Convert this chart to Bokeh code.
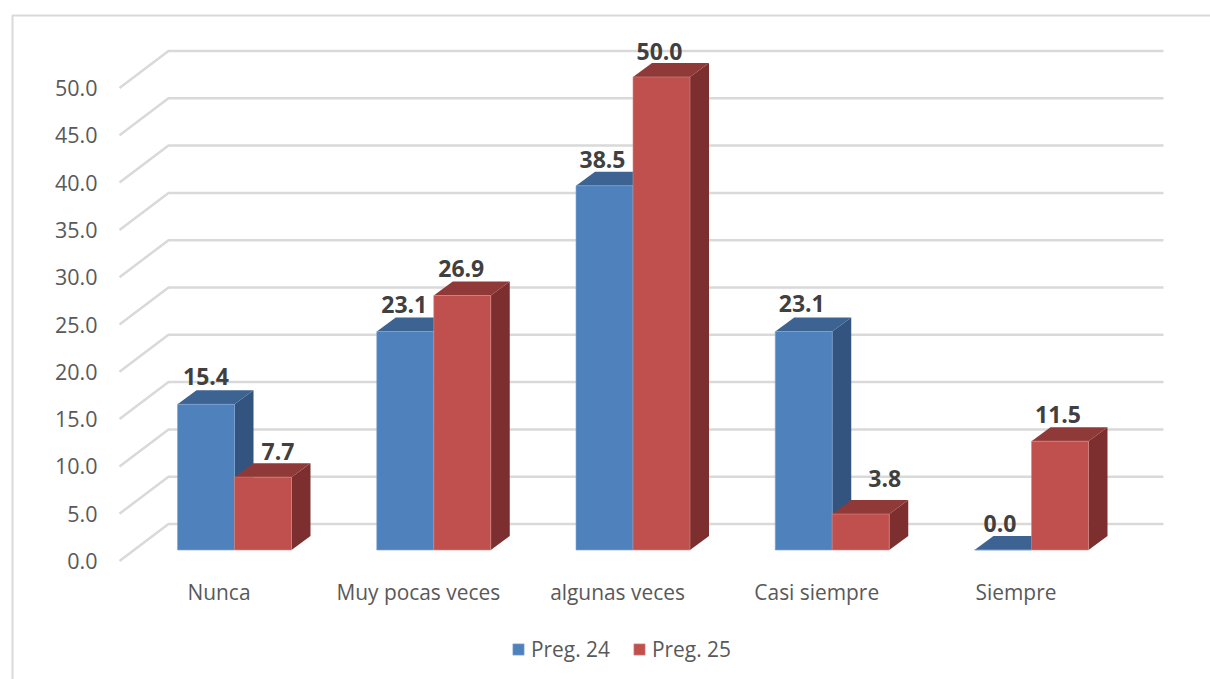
from bokeh.embed import file_html
from bokeh.models import BoxAnnotation, FixedTicker, Legend, LegendItem, LinearAxis, Range1d
from bokeh.plotting import figure
from bokeh.resources import INLINE
from bokeh.core.properties import value

# Survey answers, percent per response category
categories = ["Nunca", "Muy pocas veces", "algunas veces", "Casi siempre", "Siempre"]
preg_24 = [15.4, 23.1, 38.5, 23.1, 0.0]
preg_25 = [7.7, 26.9, 50.0, 3.8, 11.5]
y_ticks = [0, 5, 10, 15, 20, 25, 30, 35, 40, 45, 50]

FONT = "Open Sans"
W, H = 1210, 679
PX_PER_GROUP = 199.25
PX_PER_UNIT = 9.46
ORIGIN_X = 234            # pixel of the first group's centre
ORIGIN_Y = 549.5          # pixel of value 0 on the bars' front plane

dx = lambda px: px / PX_PER_GROUP
dy = lambda px: px / PX_PER_UNIT

# The plotting frame fills the page; axis labels are pulled inside it by negative standoffs
p = figure(width=W, height=H, output_backend="svg", toolbar_location=None,
           min_border_left=0, min_border_right=0, min_border_top=0, min_border_bottom=0,
           x_range=Range1d(-ORIGIN_X / PX_PER_GROUP, (W - ORIGIN_X) / PX_PER_GROUP),
           y_range=Range1d((ORIGIN_Y - H) / PX_PER_UNIT, ORIGIN_Y / PX_PER_UNIT),
           x_axis_type=None, y_axis_type=None)
p.grid.visible = False
p.outline_line_color = None
p.background_fill_color = "white"

# Axes sit on ranges shifted by a few pixels, as their labels are offset from the bars
LABEL_DY = 11
LABEL_DX = -15.5
p.extra_y_ranges["ticks"] = Range1d(p.y_range.start + dy(LABEL_DY), p.y_range.end + dy(LABEL_DY))
p.extra_x_ranges["cats"] = Range1d(p.x_range.start - dx(LABEL_DX), p.x_range.end - dx(LABEL_DX))

yaxis = LinearAxis(y_range_name="ticks", ticker=FixedTicker(ticks=y_ticks),
                   major_label_overrides={v: f"{v:.1f}" for v in y_ticks})
xaxis = LinearAxis(x_range_name="cats", ticker=FixedTicker(ticks=list(range(len(categories)))),
                   major_label_overrides={i: c for i, c in enumerate(categories)})
for ax, standoff, size in ((yaxis, -103, "21.5px"), (xaxis, -108, "20.9px")):
    ax.axis_line_color = None
    ax.major_tick_line_color = None
    ax.minor_tick_line_color = None
    ax.major_label_text_font = FONT
    ax.major_label_text_font_size = size
    ax.major_label_text_color = "#595959"
    ax.major_label_standoff = standoff
p.add_layout(yaxis, "left")
p.add_layout(xaxis, "below")

# Chart wall: each gridline runs in from the floor's front edge, then along the back
WALL_X0, WALL_X1, WALL_X2 = 119, 168, 1163
WALL_FRONT, WALL_BACK = -11, 26
wall_xs = [[dx(WALL_X0 - ORIGIN_X), dx(WALL_X1 - ORIGIN_X), dx(WALL_X2 - ORIGIN_X)] for _ in y_ticks]
wall_ys = [[v + dy(WALL_FRONT), v + dy(WALL_BACK), v + dy(WALL_BACK)] for v in y_ticks]
p.multi_line(wall_xs, wall_ys, line_color="#d9d9d9", line_width=2.5)

BAR = dx(57)
DEPTH_X, DEPTH_Y = dx(19), dy(14)
STYLES = {
    "Preg. 24": ("#4f81bd", "#3c6391", "#32547f", "#7fa4d3"),
    "Preg. 25": ("#c0504d", "#8f3a38", "#7c2f2e", "#d58886"),
}


def draw_bar(left, val, colors):
    front, top, side, edge = colors
    right = left + BAR
    if val > 0:
        p.patch([right, right + DEPTH_X, right + DEPTH_X, right],
                [0, DEPTH_Y, val + DEPTH_Y, val], fill_color=side, line_color=None)
    p.patch([left, left + DEPTH_X, right + DEPTH_X, right],
            [val, val + DEPTH_Y, val + DEPTH_Y, val], fill_color=top, line_color=None)
    return p.quad(left=left, right=right, bottom=0, top=val, fill_color=front,
                  line_color=edge, line_width=1, line_alpha=0.6)


handles = {}
for i, (a, b) in enumerate(zip(preg_24, preg_25)):
    handles["Preg. 24"] = draw_bar(i - BAR, a, STYLES["Preg. 24"])
    handles["Preg. 25"] = draw_bar(i, b, STYLES["Preg. 25"])

# Data labels: horizontal nudge and lift in pixels, hand-placed per label
nudges_24 = [(0, 28), (-1, 27), (-2, 26), (-2, 28), (-3, 27)]
nudges_25 = [(15, 26), (-1, 27), (-2, 26), (24, 36), (-2, 27)]
lx, ly, lt = [], [], []
for i in range(len(categories)):
    lx.append(i - BAR / 2 + dx(nudges_24[i][0]))
    ly.append(preg_24[i] + dy(nudges_24[i][1]))
    lt.append(f"{preg_24[i]:.1f}")
    lx.append(i + BAR / 2 + dx(nudges_25[i][0]))
    ly.append(preg_25[i] + dy(nudges_25[i][1]))
    lt.append(f"{preg_25[i]:.1f}")
p.text(lx, ly, text=lt, text_align="center", text_baseline="middle",
       text_font=value(FONT), text_font_style="bold", text_font_size="23px", text_color="#404040")

legend = Legend(items=[LegendItem(label=k, renderers=[handles[k]]) for k in handles],
                orientation="horizontal", location=(511, 16),
                label_text_font=FONT, label_text_font_size="20.9px", label_text_color="#595959",
                glyph_width=14, glyph_height=14, spacing=22, label_standoff=6,
                border_line_color=None, background_fill_alpha=0, margin=0, padding=0)
p.add_layout(legend, "center")

# Chart area border: only the top and left edges fall inside the page
p.add_layout(BoxAnnotation(left=12, right=1230, top=15, bottom=700,
                           left_units="canvas", right_units="canvas", top_units="canvas", bottom_units="canvas",
                           fill_alpha=0, line_color="#d9d9d9", line_alpha=1, line_width=2, level="underlay"))

open("out.html", "w").write(file_html(p, INLINE))
